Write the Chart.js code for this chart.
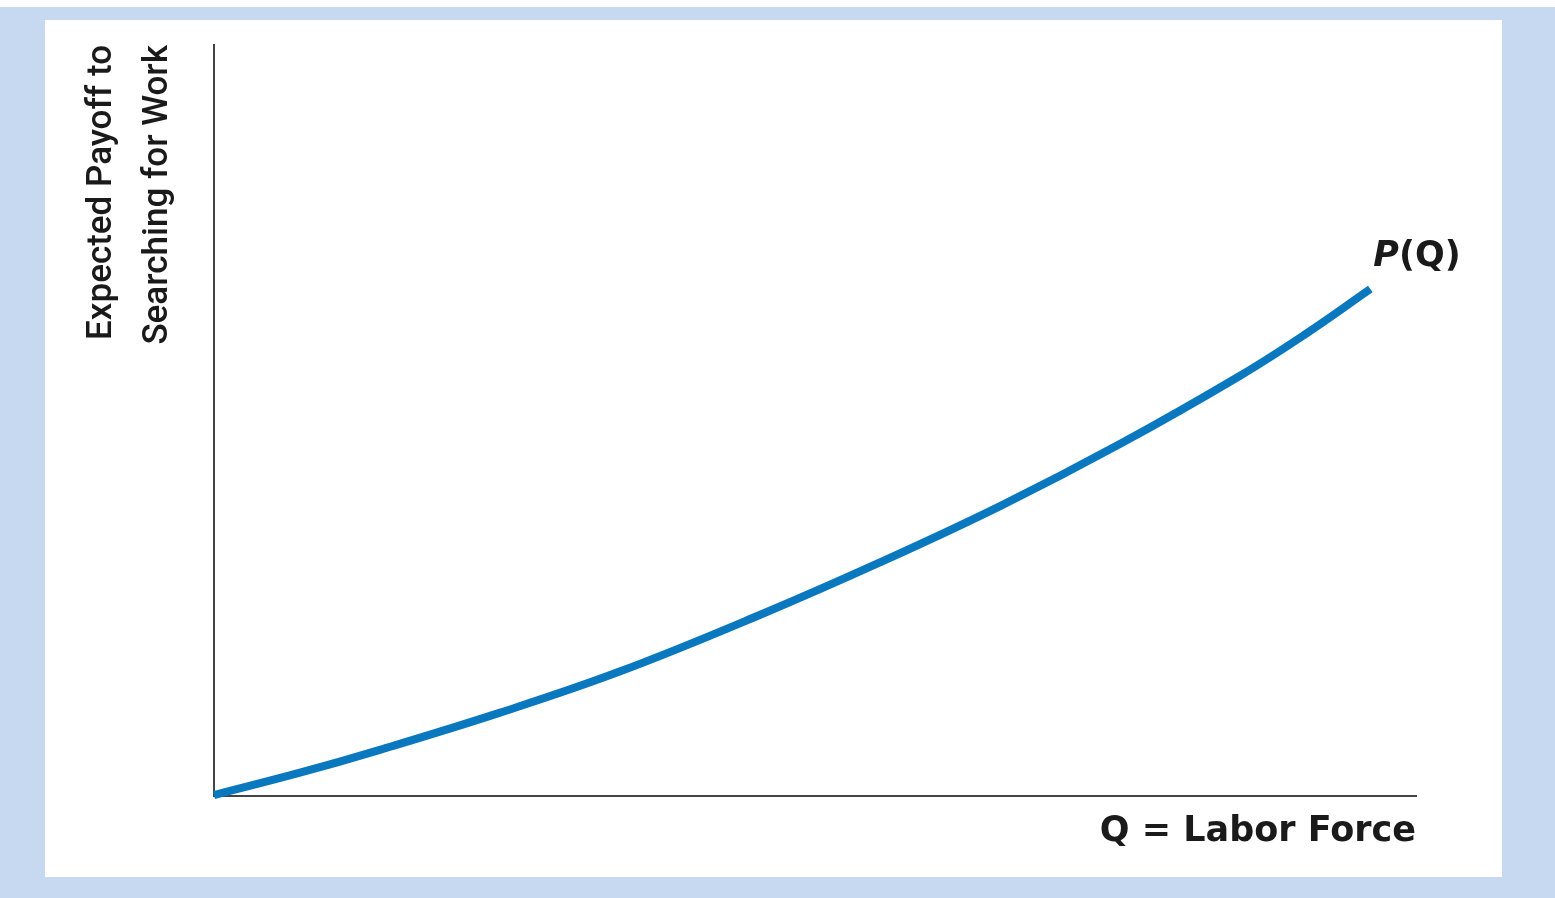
<!DOCTYPE html>
<html>
<head>
<meta charset="utf-8">
<script src="https://cdn.jsdelivr.net/npm/chart.js@4"></script>
<style>
  html, body { margin: 0; padding: 0; background: #ffffff; }
  #frame { position: absolute; left: 0; top: 7px; width: 1555px; height: 891px; background: #c6d9f0; }
  #panel { position: absolute; left: 45px; top: 20px; width: 1457px; height: 857px; background: #ffffff; }
  #wrap { position: absolute; left: 0; top: 0; width: 1555px; height: 898px; }
</style>
</head>
<body>
<div id="frame"></div>
<div id="panel"></div>
<div id="wrap"><canvas id="c" width="1555" height="898"></canvas></div>
<script>
// Data (axis units 0–100)
const laborForce = [0, 7.15, 13.8, 23.8, 33.8, 45.4, 55.4, 65.4, 75.4, 85.4, 90.8, 96.2];
const payoff     = [0.13, 3.1, 6.15, 11.1, 16.6, 24.1, 31.1, 38.6, 46.9, 56.0, 61.5, 67.5];
const curveLabel = 'P(Q)';
const xTitle = 'Q = Labor Force';
const yTitleLines = ['Expected Payoff to', 'Searching for Work'];

const points = laborForce.map((x, i) => ({ x: x, y: payoff[i] }));

const curveLabelPlugin = {
  id: 'curveLabel',
  afterDatasetsDraw(chart) {
    const meta = chart.getDatasetMeta(0);
    const last = meta.data[meta.data.length - 1];
    const ctx = chart.ctx;
    ctx.save();
    ctx.fillStyle = '#1a1a1a';
    ctx.textBaseline = 'middle';
    ctx.textAlign = 'left';
    let x = last.x + 3;
    const y = last.y - 32;
    ctx.font = 'italic bold 35px "DejaVu Sans", sans-serif';
    ctx.fillText('P', x, y);
    x += ctx.measureText('P').width;
    ctx.font = 'bold 35px "DejaVu Sans", sans-serif';
    ctx.fillText('(Q)', x, y);
    ctx.restore();
  }
};

new Chart(document.getElementById('c'), {
  type: 'line',
  data: {
    datasets: [{
      label: curveLabel,
      data: points,
      borderColor: '#0a78be',
      borderWidth: 8,
      borderCapStyle: 'butt',
      pointRadius: 0,
      fill: false,
      tension: 0.4,
      clip: false
    }]
  },
  options: {
    responsive: false,
    animation: false,
    layout: { padding: { left: 0, top: 45, right: 139, bottom: 0 } },
    plugins: { legend: { display: false }, tooltip: { enabled: false } },
    scales: {
      x: {
        type: 'linear', min: 0, max: 100,
        grid: { display: false, drawTicks: false },
        ticks: { display: false },
        border: { display: true, color: '#444444', width: 2 },
        title: {
          display: true, text: xTitle, align: 'end', color: '#1a1a1a',
          font: { family: '"DejaVu Sans", sans-serif', size: 35, weight: 'bold' },
          padding: { top: 0, bottom: 45 }
        },
        afterFit(scale) { scale.height = 102; }
      },
      y: {
        type: 'linear', min: 0, max: 100,
        grid: { display: false, drawTicks: false },
        ticks: { display: false },
        border: { display: true, color: '#444444', width: 2 },
        title: {
          display: true, text: yTitleLines, align: 'end', color: '#1a1a1a',
          font: { family: 'Roboto, sans-serif', size: 35, weight: 500, lineHeight: 1.6 },
          padding: { top: 74, bottom: 0 }
        },
        afterFit(scale) { scale.width = 214; }
      }
    }
  },
  plugins: [curveLabelPlugin]
});
</script>
</body>
</html>
